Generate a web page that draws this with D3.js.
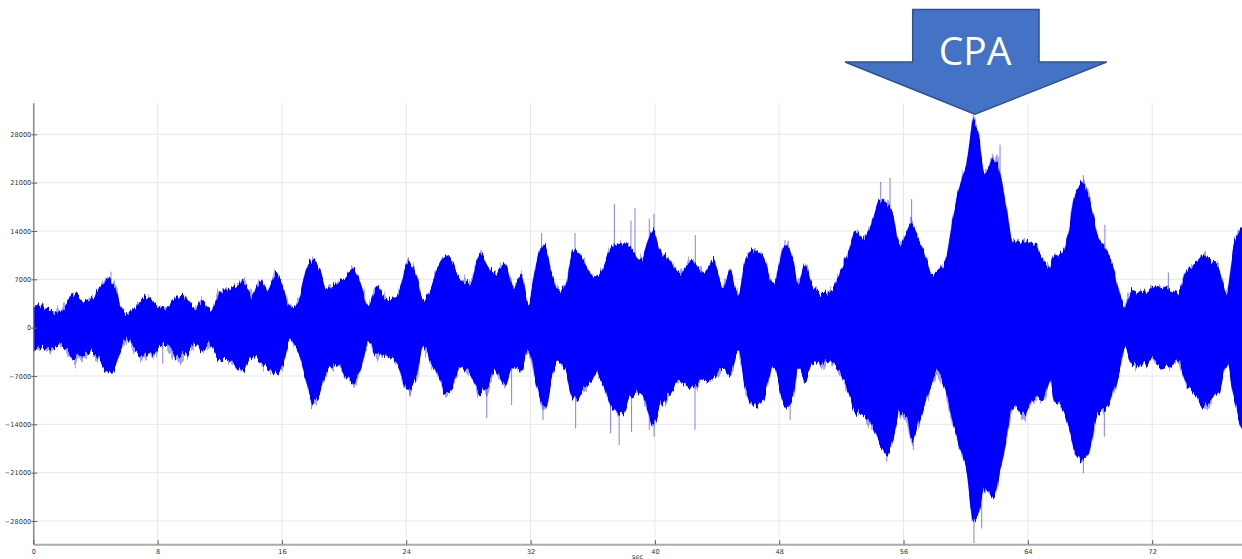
<!DOCTYPE html>
<html>
<head>
<meta charset="utf-8">
<script src="https://cdn.jsdelivr.net/npm/d3@7"></script>
<style>
  html, body { margin: 0; padding: 0; background: #fff; }
  svg { display: block; }
</style>
</head>
<body>
<svg id="chart" width="1242" height="559"></svg>
<script>
// Hydrophone signal envelope: time (s), upper and lower amplitude (counts)
const times = [
  0, 1.07, 1.72, 2.15, 2.57, 3.22, 3.76, 4.29, 4.83, 5.26, 5.58, 6.0, 6.44, 7.08, 7.72, 8.15, 8.58, 9.23, 9.87, 10.4, 10.84, 11.37, 12.0,
  12.66, 13.51, 14.05, 14.7, 15.02, 15.66, 16.09, 16.52, 17.05, 17.48, 18.02, 18.45, 18.88, 19.52, 20.06, 20.59, 21.13, 21.56, 22.1, 22.74, 23.38, 24.13, 24.67, 25.1,
  25.53, 25.96, 26.6, 27.03, 27.46, 28.1, 28.74, 29.28, 29.71, 30.35, 30.89, 31.43, 31.85, 32.39, 32.93, 33.36, 33.78, 34.21, 34.75, 35.29, 35.82, 36.25, 36.68, 37.22, 37.97,
  38.4, 39.04, 39.9, 40.33, 40.97, 41.62, 42.37, 43.11, 43.76, 44.4, 44.83, 45.37, 45.8, 46.33, 46.98, 47.62, 48.37, 48.91, 49.23, 49.66, 50.19, 50.84,
  51.27, 51.91, 52.45, 52.88, 53.41, 53.95, 54.49, 54.92, 55.34, 55.77, 56.2, 56.52, 56.95, 57.49, 57.81, 58.13, 58.67, 59.2, 59.63, 60.06, 60.49, 60.81, 61.24, 61.78, 62.21, 62.64, 63.07, 63.71,
  64.46, 64.99, 65.42, 65.64, 66.18, 66.6, 67.03, 67.57, 68.0, 68.53, 69.07, 69.5, 69.93, 70.25, 70.68, 71.32, 71.97, 72.61, 73.26, 73.68, 74.11, 74.76, 75.29, 75.83, 76.36, 76.79, 77.22, 77.65, 77.8
];
const upperValues = [
  3300, 2800, 2300, 3500, 5000, 4000, 4300, 5900, 7100, 5900, 3800, 2100, 2600, 4300, 4000, 2800, 2600, 4500, 4300, 2600, 4000, 2600, 5000,
  5700, 6650, 4700, 6900, 5450, 7900, 5900, 3000, 3800, 7900, 9800, 8350, 5700, 6400, 7100, 8600, 5900, 3000, 5900, 4000, 4500, 9550, 7400, 4000,
  5450, 8350, 10500, 9300, 6900, 6400, 10800, 8800, 7900, 9300, 5900, 7600, 3500, 9800, 12000, 7900, 5450, 5900, 11250, 10300, 7900, 7400, 8800, 11700, 12200,
  11700, 9800, 14100, 11250, 9800, 7900, 9800, 7900, 9800, 5900, 8350, 4500, 9800, 11250, 10300, 6400, 12000, 9800, 6400, 9300, 5900, 5000,
  5200, 8100, 11000, 13900, 12900, 15300, 18700, 18200, 16300, 12000, 13900, 15300, 12900, 10000, 7600, 8100, 9550, 16300, 20700, 24000, 29800, 28400, 22600, 24500, 22600, 17300, 12450, 12450,
  12200, 9800, 8800, 10300, 10800, 13700, 19500, 20900, 18500, 13200, 11250, 8800, 5000, 3000, 5450, 5000, 5700, 5900, 5450, 5000, 7900, 9300, 10500, 9800, 8350, 5000, 11700, 14100, 14500
];
const lowerValues = [
  -3000, -2800, -2300, -3200, -4700, -3700, -3500, -4700, -6600, -5600, -3200, -1500, -2800, -4200, -3700, -2800, -2800, -4200, -4000, -2300, -3500, -2300, -4700,
  -4700, -6400, -4200, -5200, -5650, -6600, -5200, -1800, -3500, -7100, -11000, -9500, -6100, -5400, -7100, -7800, -5650, -2300, -4200, -4200, -5200, -9000, -7300, -2800,
  -4700, -6600, -9500, -8550, -5650, -6600, -9500, -8550, -6100, -8550, -5650, -6600, -3200, -8550, -11900, -7600, -4700, -6100, -10500, -9500, -8100, -6600, -8100, -11450, -12400,
  -10000, -9500, -13850, -11450, -9500, -7600, -8550, -7600, -7600, -5650, -7100, -3700, -8550, -11450, -10500, -5650, -11450, -10000, -5650, -7600, -5200, -5200,
  -4900, -6400, -9300, -12200, -12650, -14100, -17000, -18450, -16000, -12200, -13100, -16500, -14100, -10200, -8300, -6400, -9300, -14100, -17500, -20900, -28100, -27100, -23300, -24700, -20900, -16000, -11200, -12650,
  -10000, -10500, -7600, -10500, -11450, -14300, -18200, -19200, -17700, -12400, -11900, -9500, -6100, -2800, -5200, -5650, -4700, -5900, -5200, -4700, -7600, -9500, -11450, -10500, -9000, -5200, -9500, -13850, -14500
];

// Isolated transient peaks that stand out from the envelope
const spikeTimes = [
  5.0, 17.98, 24.13, 32.71, 34.86, 37.39, 38.46, 38.72, 39.64, 39.94, 42.6, 48.37, 54.53, 55.13, 56.52, 60.49, 62.21, 67.57, 68.96, 73.04,
  8.33, 17.91, 24.24, 29.18, 30.78, 32.8, 34.9, 37.15, 37.7, 38.5, 39.64, 39.95, 42.58, 48.7, 54.92, 56.63, 60.53, 61.03, 67.57, 68.92
];
const spikeValues = [
  8100, 10300, 10200, 13700, 13700, 17900, 15500, 17300, 15800, 16500, 13400, 12700, 21100, 21700, 18600, 30800, 26500, 22100, 14900, 8000,
  -5200, -11800, -10000, -13100, -11200, -13400, -14600, -15300, -17000, -15100, -14800, -15800, -14800, -13400, -19400, -17700, -31200, -29100, -21100, -15800
];

const xTicks = [0, 8, 16, 24, 32, 40, 48, 56, 64, 72];
const yTicks = [-28000, -21000, -14000, -7000, 0, 7000, 14000, 21000, 28000];
const xLabel = "sec";

// Closest point of approach annotation
const cpaLabel = "CPA";
const cpaTime = 60.6;
const cpaValue = 30900;

const svg = d3.select("#chart");
const plot = { left: 33.3, right: 1242, top: 102.7, bottom: 544.3 };

const x = d3.scaleLinear().domain([0, 77.78]).range([plot.left, plot.right]);
const y = d3.scaleLinear().domain([-31380, 32580]).range([plot.bottom, plot.top]);

const defs = svg.append("defs");
defs.append("clipPath").attr("id", "plotClip")
  .append("rect")
  .attr("x", plot.left).attr("y", plot.top)
  .attr("width", plot.right - plot.left).attr("height", plot.bottom - plot.top);

// Vertical-only edge roughening so the dense oscillation reads as a waveform
function roughen(id, scale, freqX) {
  const f = defs.append("filter").attr("id", id)
    .attr("filterUnits", "userSpaceOnUse")
    .attr("x", 0).attr("y", 0).attr("width", 1242).attr("height", 559);
  f.append("feTurbulence")
    .attr("type", "fractalNoise")
    .attr("baseFrequency", `${freqX} 0.004`)
    .attr("numOctaves", 2)
    .attr("seed", 3)
    .attr("result", "noise");
  f.append("feColorMatrix")
    .attr("in", "noise")
    .attr("type", "matrix")
    .attr("values", "0 0 0 0 0.5  0 1 0 0 0  0 0 1 0 0  0 0 0 0 1")
    .attr("result", "vnoise");
  f.append("feDisplacementMap")
    .attr("in", "SourceGraphic")
    .attr("in2", "vnoise")
    .attr("scale", scale)
    .attr("xChannelSelector", "R")
    .attr("yChannelSelector", "G");
}
roughen("edgeFine", 14, 0.45);
roughen("edgeWide", 26, 0.3);

// Grid
const grid = svg.append("g").attr("class", "grid");
grid.selectAll("line.v").data(xTicks).join("line")
  .attr("class", "v")
  .attr("x1", d => x(d)).attr("x2", d => x(d))
  .attr("y1", plot.top).attr("y2", plot.bottom)
  .attr("stroke", "#e8e8e8").attr("stroke-width", 1);
grid.selectAll("line.h").data(yTicks).join("line")
  .attr("class", "h")
  .attr("x1", plot.left).attr("x2", plot.right)
  .attr("y1", d => y(d)).attr("y2", d => y(d))
  .attr("stroke", "#e8e8e8").attr("stroke-width", 1);

// Waveform
const wave = svg.append("g").attr("clip-path", "url(#plotClip)");
const envelope = times.map((t, i) => ({ t, hi: upperValues[i], lo: lowerValues[i] }));

const area = d3.area()
  .x(d => x(d.t))
  .y0(d => y(d.lo))
  .y1(d => y(d.hi))
  .curve(d3.curveMonotoneX);

// light outer fringe
wave.append("g").attr("filter", "url(#edgeWide)")
  .append("path")
  .datum(envelope)
  .attr("d", area)
  .attr("fill", "#5555ff")
  .attr("fill-opacity", 0.55);

// transient peaks, drawn under the solid body
const spikes = spikeTimes.map((t, i) => ({ t, v: spikeValues[i] }));
wave.selectAll("line.spike").data(spikes).join("line")
  .attr("class", "spike")
  .attr("x1", d => x(d.t)).attr("x2", d => x(d.t))
  .attr("y1", y(0)).attr("y2", d => y(d.v))
  .attr("stroke", "#2a2aff")
  .attr("stroke-opacity", 0.6)
  .attr("stroke-width", 1);

// solid body
wave.append("g").attr("filter", "url(#edgeFine)")
  .append("path")
  .datum(envelope)
  .attr("d", area)
  .attr("fill", "#0000ff");

// Axes
const tickFont = "DejaVu Sans, Verdana, sans-serif";

const yAxis = svg.append("g")
  .attr("transform", `translate(${plot.left},0)`)
  .call(d3.axisLeft(y).tickValues(yTicks).tickFormat(d3.format("d"))
    .tickSizeInner(4).tickSizeOuter(0).tickPadding(-2));
yAxis.select(".domain").attr("stroke", "#707070").attr("stroke-width", 1.2);
yAxis.selectAll(".tick line").attr("x1", -2).attr("x2", 4).attr("stroke", "#666");
yAxis.selectAll(".tick text")
  .attr("font-family", tickFont).attr("font-size", 6.6).attr("fill", "#333");

const xAxis = svg.append("g")
  .attr("transform", `translate(0,${plot.bottom})`)
  .call(d3.axisBottom(x).tickValues(xTicks).tickFormat(d3.format("d"))
    .tickSizeInner(-4).tickSizeOuter(0).tickPadding(5.5));
xAxis.select(".domain").attr("stroke", "#ababab").attr("stroke-width", 2);
xAxis.selectAll(".tick line").attr("stroke", "#555");
xAxis.selectAll(".tick text")
  .attr("font-family", tickFont).attr("font-size", 6.6).attr("fill", "#333");

svg.append("text")
  .attr("x", (plot.left + plot.right) / 2)
  .attr("y", 558.5)
  .attr("text-anchor", "middle")
  .attr("font-family", tickFont).attr("font-size", 6.6).attr("fill", "#333")
  .text(xLabel);

// CPA arrow pointing at the peak
const tipX = x(cpaTime), tipY = y(cpaValue);
const arrowPts = [
  [tipX, tipY],
  [tipX - 130, tipY - 52.3],
  [tipX - 62.3, tipY - 52.3],
  [tipX - 62.3, tipY - 104.7],
  [tipX + 64, tipY - 104.7],
  [tipX + 64, tipY - 52.3],
  [tipX + 131.7, tipY - 52.3]
];
svg.append("path")
  .attr("d", d3.line()(arrowPts) + "Z")
  .attr("fill", "#4472c4")
  .attr("stroke", "#2f528f")
  .attr("stroke-width", 1.5)
  .attr("stroke-linejoin", "miter");

svg.append("text")
  .attr("x", tipX)
  .attr("y", tipY - 49)
  .attr("text-anchor", "middle")
  .attr("font-family", "Open Sans, Lato, sans-serif")
  .attr("font-size", 39)
  .attr("fill", "#ffffff")
  .text(cpaLabel);
</script>
</body>
</html>
